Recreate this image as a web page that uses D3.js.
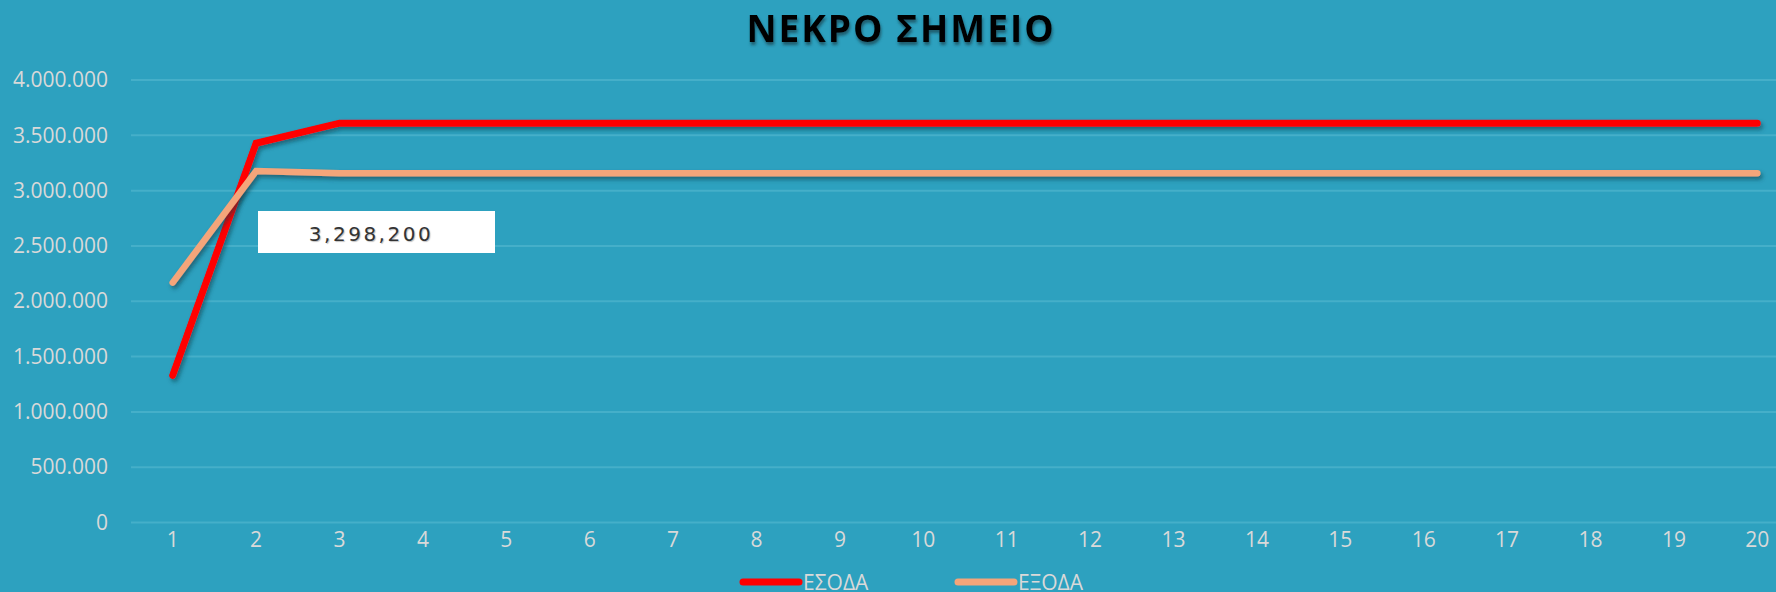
<!DOCTYPE html>
<html>
<head>
<meta charset="utf-8">
<script src="https://cdn.jsdelivr.net/npm/d3@7"></script>
<style>
  html, body { margin: 0; padding: 0; background: #2da1bf; }
  svg { display: block; }
</style>
</head>
<body>
<svg id="chart" width="1776" height="592"></svg>
<script>
// data
const years = d3.range(1, 21).map(String);
const esoda = [1330000, 3428000, 3610000, 3610000, 3610000, 3610000, 3610000, 3610000, 3610000, 3610000,
               3610000, 3610000, 3610000, 3610000, 3610000, 3610000, 3610000, 3610000, 3610000, 3610000];
const exoda = [2168000, 3177000, 3156000, 3156000, 3156000, 3156000, 3156000, 3156000, 3156000, 3156000,
               3156000, 3156000, 3156000, 3156000, 3156000, 3156000, 3156000, 3156000, 3156000, 3156000];
const yTicks = [0, 500000, 1000000, 1500000, 2000000, 2500000, 3000000, 3500000, 4000000];
const seriesNames = ["ΕΣΟΔΑ", "ΕΞΟΔΑ"];
const seriesColors = ["#ff0000", "#f4a57a"];
const labelValue = "3,298,200";

var width = 1776, height = 592;
var plotLeft = 131, plotTop = 80, plotBottom = 522.5;
var band = 83.4;

var svg = d3.select("#chart");

var defs = svg.append("defs");
defs.append("filter").attr("id", "shadow")
    .attr("x", "-5%").attr("y", "-20%").attr("width", "110%").attr("height", "140%")
  .append("feDropShadow")
    .attr("dx", 2).attr("dy", 3).attr("stdDeviation", 2)
    .attr("flood-color", "#0b3a4a").attr("flood-opacity", 0.6);
defs.append("filter").attr("id", "titleShadow")
  .append("feDropShadow")
    .attr("dx", 1).attr("dy", 3).attr("stdDeviation", 1.5)
    .attr("flood-color", "#1a4a58").attr("flood-opacity", 0.8);

var x = d3.scaleBand()
    .domain(years)
    .range([plotLeft, plotLeft + band * years.length]);

var y = d3.scaleLinear()
    .domain([0, 4000000])
    .range([plotBottom, plotTop]);

var fmt = function(d) { return d === 0 ? "0" : d3.format(",")(d).replace(/,/g, "."); };

// gridlines
svg.append("g")
   .selectAll("line")
   .data(yTicks)
   .enter()
   .append("line")
   .attr("x1", plotLeft)
   .attr("x2", width)
   .attr("y1", function(d) { return y(d); })
   .attr("y2", function(d) { return y(d); })
   .attr("stroke", "#45afc9")
   .attr("stroke-width", 2);

// y axis
var yAxis = d3.axisLeft(y).tickValues(yTicks).tickFormat(fmt).tickSize(0).tickPadding(0);
var gy = svg.append("g")
   .attr("transform", "translate(108,0)")
   .call(yAxis);
gy.select(".domain").remove();
gy.selectAll("text")
   .attr("fill", "#d9d9d9")
   .style("font-family", "'Open Sans', sans-serif")
   .style("font-size", "21px");

// x axis
var xAxis = d3.axisBottom(x).tickSize(0).tickPadding(0);
var gx = svg.append("g")
   .attr("transform", "translate(0,532)")
   .call(xAxis);
gx.select(".domain").remove();
gx.selectAll("text")
   .attr("fill", "#d9d9d9")
   .style("font-family", "'Open Sans', sans-serif")
   .style("font-size", "21px");

// lines
var line = d3.line()
    .x(function(d, i) { return x(years[i]) + x.bandwidth() / 2; })
    .y(function(d) { return y(d); });

[esoda, exoda].forEach(function(s, i) {
    svg.append("path")
       .datum(s)
       .attr("d", line)
       .attr("fill", "none")
       .attr("stroke", seriesColors[i])
       .attr("stroke-width", i === 0 ? 7 : 6.5)
       .attr("stroke-linecap", "round")
       .attr("stroke-linejoin", "miter")
       .attr("filter", "url(#shadow)");
});

// data label box
var lbl = svg.append("g");
lbl.append("rect")
   .attr("x", 258).attr("y", 211)
   .attr("width", 237).attr("height", 42)
   .attr("fill", "#ffffff");
lbl.append("text")
   .attr("x", 371).attr("y", 234)
   .attr("text-anchor", "middle")
   .attr("dominant-baseline", "central")
   .attr("fill", "#333333")
   .style("font-family", "'DejaVu Sans', sans-serif")
   .style("font-size", "20px")
   .style("letter-spacing", "2.5px")
   .style("text-shadow", "1px 1px 1px rgba(0,0,0,0.25)")
   .text(labelValue);

// title
svg.append("text")
   .attr("x", 901).attr("y", 42)
   .attr("text-anchor", "middle")
   .attr("fill", "#000000")
   .style("font-family", "'Open Sans', sans-serif")
   .style("font-weight", "bold")
   .style("font-size", "37px")
   .style("letter-spacing", "2px")
   .attr("filter", "url(#titleShadow)")
   .text("ΝΕΚΡΟ ΣΗΜΕΙΟ");

// legend
var legendX = [743, 958];
seriesNames.forEach(function(n, i) {
    var g = svg.append("g").attr("transform", "translate(" + legendX[i] + ",582)");
    g.append("line")
     .attr("x1", 0).attr("x2", 56)
     .attr("y1", 0).attr("y2", 0)
     .attr("stroke", seriesColors[i])
     .attr("stroke-width", 7)
     .attr("stroke-linecap", "round");
    g.append("text")
     .attr("x", 60).attr("y", 8)
     .attr("fill", "#d9d9d9")
     .style("font-family", "'Open Sans', sans-serif")
     .style("font-size", "21px")
     .text(n);
});
</script>
</body>
</html>
